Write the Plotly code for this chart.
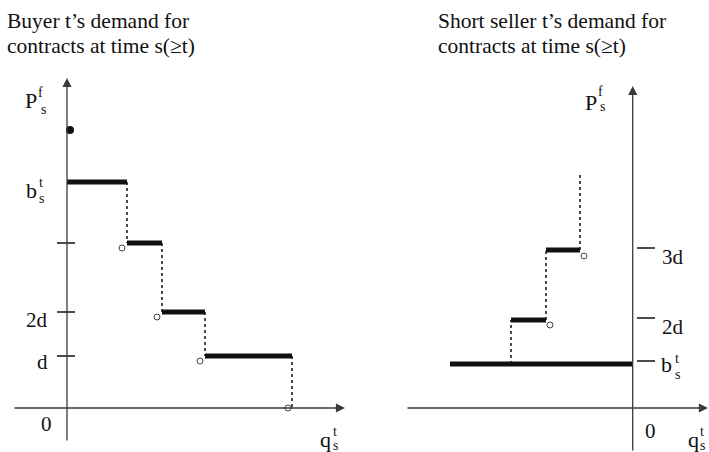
import plotly.graph_objects as go

W, H = 709, 452
FONT = "Liberation Serif"
INK = "#111111"
AXIS = "#3a3a3a"

# ---- Buyer: downward step schedule (price levels and quantity breakpoints) ----
buyer_levels = [22.6, 16.5, 9.6, 5.2]
buyer_q = [0.0, 6.0, 9.5, 13.8, 22.5]
buyer_open_q = [5.5, 9.0, 13.3, 22.1]
buyer_open_p = [16.0, 9.1, 4.7, 0.0]
buyer_dot_q = [0.3]
buyer_dot_p = [27.8]
buyer_ticks = [16.5, 9.6, 5.2]

# ---- Short seller: upward step schedule ----
seller_levels = [4.4, 8.8, 15.8]
seller_bar_start = [-18.27, -12.17, -8.67]
seller_bar_end = [0.0, -8.67, -5.27]
seller_top = 23.6
seller_open_q = [-8.27, -4.87]
seller_open_p = [8.3, 15.2]
seller_ticks = [4.7, 9.0, 16.0]

fig = go.Figure()


def segs(xs0, xs1, ys0, ys1):
    xs, ys = [], []
    for a, b, c, d in zip(xs0, xs1, ys0, ys1):
        xs += [a, b, None]
        ys += [c, d, None]
    return xs, ys


# buyer thick steps
bx, by = segs(buyer_q[:-1], buyer_q[1:], buyer_levels, buyer_levels)
fig.add_trace(go.Scatter(x=bx, y=by, mode="lines", line=dict(color=INK, width=5),
                         xaxis="x", yaxis="y"))
# buyer dotted drops
drop_to = buyer_levels[1:] + [0.0]
dx, dy = segs(buyer_q[1:], buyer_q[1:], buyer_levels, drop_to)
fig.add_trace(go.Scatter(x=dx, y=dy, mode="lines",
                         line=dict(color=INK, width=1.5, dash="dot"),
                         xaxis="x", yaxis="y"))
# buyer ticks on price axis
tx, ty = segs([-1.0] * len(buyer_ticks), [0.8] * len(buyer_ticks), buyer_ticks, buyer_ticks)
fig.add_trace(go.Scatter(x=tx, y=ty, mode="lines", line=dict(color=INK, width=1.5),
                         xaxis="x", yaxis="y"))
# open end points and isolated point
fig.add_trace(go.Scatter(x=buyer_open_q, y=buyer_open_p, mode="markers",
                         marker=dict(symbol="circle-open", size=6, color="#444",
                                     line=dict(width=1)),
                         xaxis="x", yaxis="y"))
fig.add_trace(go.Scatter(x=buyer_dot_q, y=buyer_dot_p, mode="markers",
                         marker=dict(symbol="circle", size=8, color=INK),
                         xaxis="x", yaxis="y"))

# seller thick steps
sx, sy = segs(seller_bar_start, seller_bar_end, seller_levels, seller_levels)
fig.add_trace(go.Scatter(x=sx, y=sy, mode="lines", line=dict(color=INK, width=5),
                         xaxis="x2", yaxis="y2"))
# seller dotted rises
rise_x = [seller_bar_start[1], seller_bar_start[2], seller_bar_end[2]]
rise_from = seller_levels
rise_to = seller_levels[1:] + [seller_top]
rx, ry = segs(rise_x, rise_x, rise_from, rise_to)
fig.add_trace(go.Scatter(x=rx, y=ry, mode="lines",
                         line=dict(color=INK, width=1.5, dash="dot"),
                         xaxis="x2", yaxis="y2"))
# seller ticks
tx2, ty2 = segs([0.43] * len(seller_ticks), [2.23] * len(seller_ticks), seller_ticks, seller_ticks)
fig.add_trace(go.Scatter(x=tx2, y=ty2, mode="lines", line=dict(color=INK, width=1.5),
                         xaxis="x2", yaxis="y2"))
fig.add_trace(go.Scatter(x=seller_open_q, y=seller_open_p, mode="markers",
                         marker=dict(symbol="circle-open", size=6, color="#444",
                                     line=dict(width=1)),
                         xaxis="x2", yaxis="y2"))

annotations = []


def arrow(xr, yr, x, y, ax, ay):
    annotations.append(dict(x=x, y=y, ax=ax, ay=ay, xref=xr, yref=yr, axref=xr, ayref=yr,
                            text="", showarrow=True, arrowhead=2, arrowsize=1.4,
                            arrowwidth=1.3, arrowcolor=AXIS))


arrow("x", "y", 0, 33.0, 0, -3.4)
arrow("x", "y", 27.8, 0, -5.4, 0)
arrow("x2", "y2", 0, 32.2, 0, -4.4)
arrow("x2", "y2", 7.53, 0, -22.67, 0)

PAD = 2  # annotation box padding (borderpad + borderwidth)


def txt(s, px, py, size=20, anchor="left"):
    shift = -PAD if anchor == "left" else PAD
    annotations.append(dict(text=s, x=(px + shift) / W, y=1 - py / H,
                            xref="paper", yref="paper",
                            xanchor=anchor, yanchor="middle", showarrow=False,
                            font=dict(family=FONT, size=size, color=INK)))


def sym(base, sup, sub, right_px, base_py, sup_py, sub_py, sup_dx=1, sub_dx=4):
    txt(base, right_px, base_py, 22, "right")
    txt(sup, right_px + sup_dx, sup_py, 14)
    txt(sub, right_px + sub_dx, sub_py, 14)


# titles
txt("Buyer t\u2019s demand for", 7, 21, 21.5)
txt("contracts at time s(\u2265t)", 7, 46, 21.5)
txt("Short seller t\u2019s demand for", 438, 21, 21.5)
txt("contracts at time s(\u2265t)", 438, 46, 21.5)

# left panel labels
sym("P", "f", "s", 37, 101, 93, 109, 1, 4)
sym("b", "t", "s", 37, 190, 182, 198, 2, 2)
txt("2d", 48, 320, 21, "right")
txt("d", 48, 362, 21, "right")
txt("0", 52, 424, 21, "right")
sym("q", "t", "s", 331, 439, 431, 445, 2, 2)

# right panel labels
sym("P", "f", "s", 597, 103, 92, 107, 1, 3)
txt("3d", 662, 257, 21)
txt("2d", 662, 327, 21)
sym("b", "t", "s", 672, 364, 358, 374, 3, 3)
txt("0", 645, 431, 21)
sym("q", "t", "s", 699, 439, 431, 445, 1, 1)

fig.update_layout(
    width=W, height=H,
    margin=dict(l=0, r=0, t=0, b=0),
    paper_bgcolor="white", plot_bgcolor="white",
    showlegend=False,
    xaxis=dict(domain=[0, 360 / W], range=[-6.7, 29.3], visible=False),
    yaxis=dict(domain=[0, 1], range=[-4.4, 40.8], visible=False),
    xaxis2=dict(domain=[360 / W, 1], range=[(360 - 632.7) / 10, (709 - 632.7) / 10],
                visible=False),
    yaxis2=dict(domain=[0, 1], range=[-4.4, 40.8], visible=False, anchor="x2"),
    annotations=annotations,
)

fig.write_html("out.html")
